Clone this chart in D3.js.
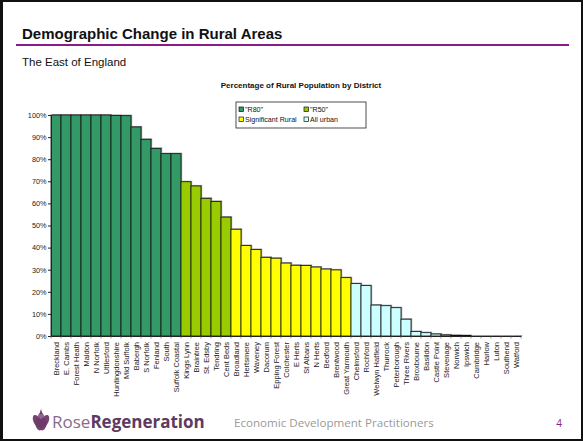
<!DOCTYPE html>
<html>
<head>
<meta charset="utf-8">
<script src="https://cdn.jsdelivr.net/npm/d3@7"></script>
<style>
  body { margin: 0; background: #fff; }
  svg { display: block; font-family: Arial, "Liberation Sans", sans-serif; }
</style>
</head>
<body>
<svg class="slide" width="583" height="441"></svg>
<script>
const districts = ["Breckland","E. Cambs","Forest Heath","Maldon","N Norfolk","Uttlesford","Huntingdonshire","Mid Suffolk","Babergh","S Norfolk","Fenland","South","Suffolk Coastal",
  "Kings Lynn","Braintree","St. Edsby","Tendring","Cent Beds",
  "Broadland","Hertsmere","Waveney","Dacorum","Epping Forest","Colchester","E Herts","St Albans","N Herts","Bedford","Brentwood","Great Yarmouth",
  "Chelmsford","Rochford","Welwyn Hatfield","Thurrock","Peterborough","Three Rivers","Broxbourne","Basildon","Castle Point","Stevenage","Norwich","Ipswich","Cambridge","Harlow","Luton","Southend","Watford"];
const ruralPct = [100,100,100,100,100,100,99.8,99.7,94.6,89,84.9,82.5,82.5,
  69.8,67.9,62.3,60.9,53.8,
  48.3,40.9,39.1,35.6,35.2,33.0,32.0,31.9,31.2,30.3,29.9,26.4,
  23.7,22.8,14.0,13.7,12.8,7.6,2.0,1.5,0.9,0.5,0.3,0.2,0,0,0,0,0];
const groupKeys = ["R80","R50","SR","U"];
const groupNames = [' "R80"',' "R50"','Significant Rural','All urban'];
const groupCounts = [13,5,12,17];
const yTicks = [0,10,20,30,40,50,60,70,80,90,100];

const colors = {R80:"#339966", R50:"#99cc00", SR:"#ffff00", U:"#ccffff"};
const groupOf = [];
groupKeys.forEach((k,i)=>{ for(let j=0;j<groupCounts[i];j++) groupOf.push(k); });

let svg = d3.select(".slide"),
    W = 583, H = 441;

// slide frame
svg.append("rect").attr("x",1).attr("y",1).attr("width",W-2).attr("height",H-2)
  .attr("fill","#fff").attr("stroke","#111").attr("stroke-width",2);
svg.append("line").attr("x1",1.5).attr("x2",1.5).attr("y1",0).attr("y2",H)
  .attr("stroke","#111").attr("stroke-width",3);

// header
svg.append("text").attr("x",22).attr("y",38.5)
  .attr("font-size",15).attr("font-weight","bold").attr("fill","#111")
  .text("Demographic Change in Rural Areas");
svg.append("line").attr("x1",16).attr("x2",569).attr("y1",45).attr("y2",45)
  .attr("stroke","#8b1a89").attr("stroke-width",2.2);
svg.append("text").attr("x",22).attr("y",66)
  .attr("font-size",11.5).attr("fill","#111")
  .text("The East of England");

// chart
let margin = {top:115, left:51},
    width = 470, height = 221;

let x = d3.scaleBand().domain(districts).range([0,width]).padding(0),
    y = d3.scaleLinear().domain([0,100]).range([height,0]);

let focus = svg.append("g").attr("transform","translate("+margin.left+","+margin.top+")");

svg.append("text").attr("x",301).attr("y",88).attr("text-anchor","middle")
  .attr("font-size",8).attr("font-weight","bold").attr("fill","#111")
  .text("Percentage of Rural Population by District");

// shadows then bars
focus.selectAll("rect.shadow").data(districts).enter().append("rect")
  .attr("class","shadow")
  .attr("x",d=>x(d)+1.2).attr("y",(d,i)=>y(ruralPct[i])-1)
  .attr("width",x.bandwidth()).attr("height",(d,i)=>height-y(ruralPct[i])+1)
  .attr("fill","#9a9a9a");
focus.selectAll("rect.bar").data(districts).enter().append("rect")
  .attr("class","bar")
  .attr("x",d=>x(d)).attr("y",(d,i)=>y(ruralPct[i]))
  .attr("width",x.bandwidth()).attr("height",(d,i)=>height-y(ruralPct[i]))
  .attr("fill",(d,i)=>colors[groupOf[i]])
  .attr("stroke","#111").attr("stroke-width",0.8);

// y axis
let yAxis = d3.axisLeft(y).tickValues(yTicks).tickSize(3).tickFormat(d=>d+"%");
focus.append("g").call(yAxis).call(g=>{
  g.select(".domain").attr("stroke","#222");
  g.selectAll(".tick line").attr("stroke","#222");
  g.selectAll(".tick text").attr("font-size",7.3).attr("fill","#222")
    .attr("font-family","Arial, 'Liberation Sans', sans-serif").attr("x",-4.5);
});

// x axis
let xAxis = d3.axisBottom(x).tickSize(0);
focus.append("g").attr("transform","translate(0,"+height+")").call(xAxis).call(g=>{
  g.select(".domain").attr("stroke","#222");
  g.selectAll(".tick text")
    .attr("font-size",7.5).attr("fill","#222")
    .attr("font-family","Arial, 'Liberation Sans', sans-serif")
    .attr("transform","rotate(-90)")
    .attr("text-anchor","end").attr("x",-6).attr("y",0).attr("dy","0.35em");
});
focus.append("g").selectAll("line").data(districts.concat([null])).enter().append("line")
  .attr("x1",(d,i)=>i*x.step()).attr("x2",(d,i)=>i*x.step())
  .attr("y1",height).attr("y2",height+2.5).attr("stroke","#555").attr("stroke-width",0.6);

// legend
let legend = svg.append("g").attr("transform","translate(236,102)");
legend.append("rect").attr("width",130).attr("height",26)
  .attr("fill","#fff").attr("stroke","#222").attr("stroke-width",0.8);
let items = legend.selectAll("g.item").data(groupKeys).enter().append("g")
  .attr("transform",(d,i)=>"translate("+(i%2===0?3:68)+","+(i<2?5:15)+")");
items.append("rect").attr("width",4.5).attr("height",4.5)
  .attr("fill",d=>colors[d]).attr("stroke","#111").attr("stroke-width",0.7);
items.append("text").attr("x",6).attr("y",5)
  .attr("font-size",7.1).attr("fill","#111")
  .text((d,i)=>groupNames[i]);

// footer
let footer = svg.append("g").attr("transform","translate(0,422)");
let logo = footer.append("g").attr("transform","translate(41,0)");
[[-4,-1,-25],[4,-1,25],[0,-3,0],[-2,2,-10],[2,2,10]].forEach(p=>{
  logo.append("ellipse").attr("cx",p[0]).attr("cy",p[1]).attr("rx",3.6).attr("ry",6.5)
    .attr("transform","rotate("+p[2]+","+p[0]+","+p[1]+")")
    .attr("fill",p[2]===0?"#8e5a8a":"#6e3a6c").attr("opacity",0.95);
});
logo.append("path").attr("d","M0,-13 L1.5,-8 L-1.5,-8 Z").attr("fill","#6e3a6c");
let brand = footer.append("text").attr("x",52).attr("y",6)
  .attr("font-family","'Open Sans', Arial, sans-serif").attr("font-size",17);
brand.append("tspan").attr("fill","#8a6a8a").text("Rose");
brand.append("tspan").attr("fill","#5e3a60").attr("font-weight","bold").text("Regeneration");
footer.append("text").attr("x",234).attr("y",4.5)
  .attr("font-family","'Open Sans', Lato, sans-serif").attr("font-size",11.6).attr("fill","#9a9a9a")
  .text("Economic Development Practitioners");
footer.append("text").attr("x",559).attr("y",4.5).attr("text-anchor","middle")
  .attr("font-family","'Open Sans', Arial, sans-serif").attr("font-size",10).attr("fill","#8b1a89")
  .text("4");
</script>
</body>
</html>
